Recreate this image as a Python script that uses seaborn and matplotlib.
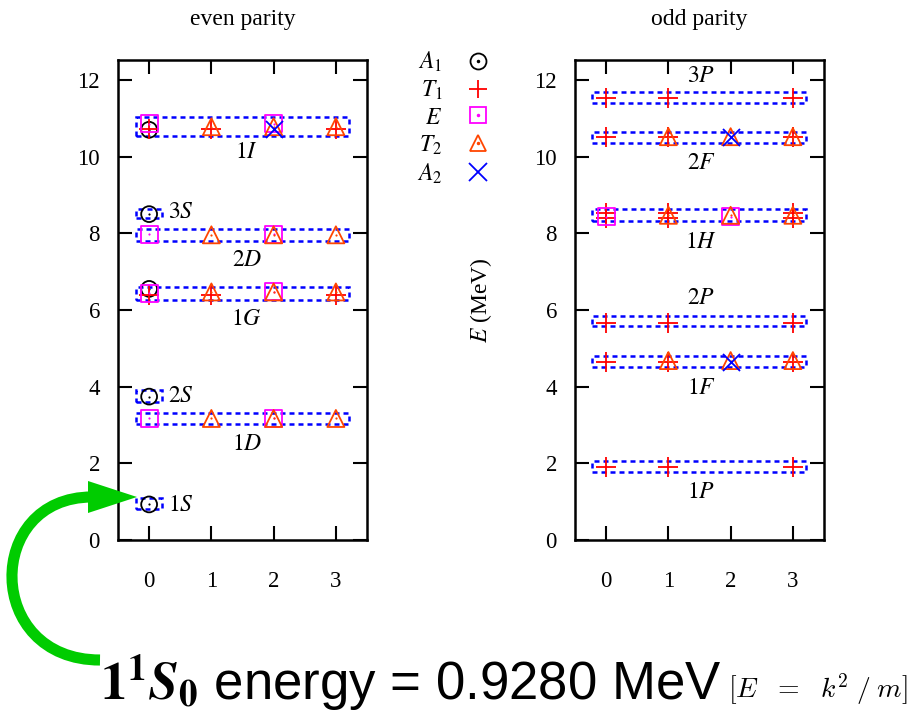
import numpy as np
import pandas as pd
import matplotlib
matplotlib.use("Agg")
import matplotlib.pyplot as plt
import seaborn as sns
from matplotlib.patches import Rectangle, PathPatch, Polygon
from matplotlib.path import Path
from matplotlib.lines import Line2D
from matplotlib.legend_handler import HandlerTuple

# ---------------- data ----------------
irreps = ["A1", "T1", "E", "T2", "A2"]
irrep_labels = ["$A_1$", "$T_1$", "$E$", "$T_2$", "$A_2$"]

even_A1_x = [0, 0, 0, 0, 0]
even_A1_E = [0.928, 3.74, 6.55, 8.50, 10.70]
even_T1_x = [0, 1, 3, 0, 1, 3]
even_T1_E = [6.38, 6.38, 6.38, 10.73, 10.73, 10.73]
even_E_x = [0, 2, 0, 2, 0, 2, 0, 2]
even_E_E = [3.17, 3.17, 6.43, 6.47, 7.98, 7.98, 10.86, 10.86]
even_T2_x = [1, 2, 3, 1, 2, 3, 1, 2, 3, 1, 2, 3]
even_T2_E = [3.17, 3.17, 3.17, 6.47, 6.47, 6.47, 7.96, 7.96, 7.96, 10.78, 10.78, 10.78]
even_A2_x = [2]
even_A2_E = [10.72]

odd_A1_x = []
odd_A1_E = []
odd_T1_x = [0, 1, 3, 0, 1, 3, 0, 1, 3, 0, 1, 3, 0, 1, 3, 0, 1, 3, 0, 1, 3]
odd_T1_E = [1.91, 1.91, 1.91, 4.65, 4.65, 4.65, 5.67, 5.67, 5.67,
            8.52, 8.52, 8.52, 8.39, 8.39, 8.39, 10.52, 10.52, 10.52,
            11.52, 11.52, 11.52]
odd_E_x = [0, 2]
odd_E_E = [8.43, 8.43]
odd_T2_x = [1, 2, 3, 1, 2, 3, 1, 2, 3]
odd_T2_E = [4.68, 4.68, 4.68, 8.47, 8.47, 8.47, 10.52, 10.52, 10.52]
odd_A2_x = [2, 2]
odd_A2_E = [4.65, 10.50]

even_box_label = ["$1S$", "$2S$", "$1D$", "$1G$", "$2D$", "$3S$", "$1I$"]
even_box_x0 = [-0.21, -0.21, -0.21, -0.21, -0.21, -0.21, -0.21]
even_box_x1 = [0.20, 0.20, 3.21, 3.21, 3.21, 0.20, 3.21]
even_box_lo = [0.80, 3.61, 3.02, 6.26, 7.81, 8.40, 10.54]
even_box_hi = [1.10, 3.91, 3.31, 6.61, 8.11, 8.63, 11.04]
even_label_x = [0.30, 0.30, 1.57, 1.57, 1.57, 0.30, 1.57]
even_label_y = [0.91, 3.74, 2.48, 5.74, 7.29, 8.53, 10.10]

odd_box_label = ["$1P$", "$1F$", "$2P$", "$1H$", "$2F$", "$3P$"]
odd_box_x0 = [-0.22, -0.22, -0.22, -0.22, -0.22, -0.22]
odd_box_x1 = [3.21, 3.21, 3.21, 3.21, 3.21, 3.21]
odd_box_lo = [1.77, 4.52, 5.57, 8.31, 10.35, 11.39]
odd_box_hi = [2.06, 4.81, 5.85, 8.63, 10.65, 11.68]
odd_label_x = [1.53, 1.53, 1.53, 1.53, 1.53, 1.53]
odd_label_y = [1.23, 3.96, 6.31, 7.75, 9.83, 12.09]

x_ticks = [0, 1, 2, 3]
y_ticks = [0, 2, 4, 6, 8, 10, 12]

# ---------------- style ----------------
sns.set_style("ticks")
plt.rcParams["font.family"] = ["Liberation Serif", "DejaVu Serif"]
plt.rcParams["mathtext.fontset"] = "stix"
plt.rcParams["text.color"] = "black"
plt.rcParams["axes.labelcolor"] = "black"
plt.rcParams["xtick.color"] = "black"
plt.rcParams["ytick.color"] = "black"

colors = {"A1": "#000000", "T1": "#ff0000", "E": "#ff00ff", "T2": "#ff4500", "A2": "#0000ff"}
markers = {"A1": "o", "T1": "+", "E": "s", "T2": "^", "A2": "x"}
sizes = {"A1": 130, "T1": 190, "E": 150, "T2": 150, "A2": 150}

def frame(x, y, irr, parity):
    return pd.DataFrame({"x": x, "E": y, "irrep": irr, "parity": parity})

df = pd.concat([
    frame(even_A1_x, even_A1_E, "A1", "even"),
    frame(even_T1_x, even_T1_E, "T1", "even"),
    frame(even_E_x, even_E_E, "E", "even"),
    frame(even_T2_x, even_T2_E, "T2", "even"),
    frame(even_A2_x, even_A2_E, "A2", "even"),
    frame(odd_A1_x, odd_A1_E, "A1", "odd"),
    frame(odd_T1_x, odd_T1_E, "T1", "odd"),
    frame(odd_E_x, odd_E_E, "E", "odd"),
    frame(odd_T2_x, odd_T2_E, "T2", "odd"),
    frame(odd_A2_x, odd_A2_E, "A2", "odd"),
], ignore_index=True)

fig = plt.figure(figsize=(9.21, 7.13), dpi=100)
ax_even = fig.add_axes([118 / 921, 1 - 540 / 713, 249 / 921, 480 / 713])
ax_odd = fig.add_axes([575 / 921, 1 - 540 / 713, 249 / 921, 480 / 713])

tick_fs = 16.5

def draw_panel(ax, parity, box_x0, box_x1, box_lo, box_hi, labels, lx, ly):
    for x0, x1, lo, hi in zip(box_x0, box_x1, box_lo, box_hi):
        ax.add_patch(Rectangle((x0, lo), x1 - x0, hi - lo, fill=False,
                               edgecolor="#0000ff", linewidth=1.8,
                               linestyle=(0, (2.0, 1.6)), zorder=2))
    sub = df[df["parity"] == parity]
    for irr in irreps:
        d = sub[sub["irrep"] == irr]
        if d.empty:
            continue
        c = colors[irr]
        if markers[irr] in ("+", "x"):
            sns.scatterplot(data=d, x="x", y="E", marker=markers[irr], s=sizes[irr],
                            color=c, linewidth=1.3, ax=ax, zorder=3, legend=False)
        else:
            sns.scatterplot(data=d, x="x", y="E", marker=markers[irr], s=sizes[irr],
                            facecolor="none", edgecolor=c, linewidth=1.3, ax=ax,
                            zorder=3, legend=False)
            sns.scatterplot(data=d, x="x", y="E", marker="o", s=2.5, color=c,
                            linewidth=0, ax=ax, zorder=3, legend=False)
    for lab, x, y in zip(labels, lx, ly):
        ha = "left" if x < 1 else "center"
        ax.text(x, y, lab, ha=ha, va="center", fontsize=17, color="black", zorder=4)
    ax.set_xlim(-0.5, 3.5)
    ax.set_ylim(0, 12.52)
    ax.set_xticks(x_ticks)
    ax.set_yticks(y_ticks)
    ax.set_xlabel("")
    ax.set_ylabel("")
    ax.tick_params(direction="in", length=10, width=1.5, top=True, right=True,
                   labelsize=tick_fs, colors="black")
    ax.tick_params(axis="x", pad=22)
    ax.tick_params(axis="y", pad=13)
    for s in ax.spines.values():
        s.set_linewidth(1.8)
        s.set_color("black")
        s.set_visible(True)

draw_panel(ax_even, "even", even_box_x0, even_box_x1, even_box_lo, even_box_hi,
           even_box_label, even_label_x, even_label_y)
draw_panel(ax_odd, "odd", odd_box_x0, odd_box_x1, odd_box_lo, odd_box_hi,
           odd_box_label, odd_label_x, odd_label_y)

ax_even.set_title("even parity", fontsize=17, pad=25, color="black")
ax_odd.set_title("odd parity", fontsize=17, pad=25, color="black")
ax_odd.set_ylabel("$E$ (MeV)", fontsize=17, color="black")
ax_odd.yaxis.set_label_coords(-0.325, 0.5)

# legend
handles = []
for irr in irreps:
    c = colors[irr]
    if markers[irr] in ("+", "x"):
        handles.append(Line2D([], [], linestyle="none", marker=markers[irr],
                              markersize=13, color=c, markeredgewidth=1.3))
    else:
        h1 = Line2D([], [], linestyle="none", marker=markers[irr], markersize=11.5,
                    markerfacecolor="none", markeredgecolor=c, markeredgewidth=1.3)
        h2 = Line2D([], [], linestyle="none", marker="o", markersize=1.5,
                    color=c)
        handles.append((h1, h2))
leg = fig.legend(handles, irrep_labels, handler_map={tuple: HandlerTuple(ndivide=1)},
                 loc="upper right", bbox_to_anchor=(492 / 921, 1 - 50 / 713),
                 frameon=False, markerfirst=False, fontsize=17, labelspacing=0.2,
                 handlelength=1.2, handletextpad=0.9, borderpad=0, borderaxespad=0,
                 labelcolor="black")

# annotation arrow and text
W, H = 921.0, 713.0
green = "#00cc00"
shaft = Path(
    [(100 / W, 1 - 660 / H), (-16 / W, 1 - 660 / H), (-16 / W, 1 - 497 / H), (92 / W, 1 - 497 / H)],
    [Path.MOVETO, Path.CURVE4, Path.CURVE4, Path.CURVE4])
fig.patches.append(PathPatch(shaft, transform=fig.transFigure, facecolor="none",
                             edgecolor=green, linewidth=8, capstyle="butt", zorder=5))
fig.patches.append(Polygon([(137 / W, 1 - 497 / H), (88 / W, 1 - 481 / H), (88 / W, 1 - 513 / H)],
                           closed=True, transform=fig.transFigure, facecolor=green,
                           edgecolor="none", zorder=5))

fig.text(100 / W, 1 - 700 / H,
         r"$\mathbf{1}^{\mathbf{1}}\mathbfit{S}_{\mathbf{0}}$ energy = 0.9280 MeV",
         fontsize=38, family=["Liberation Sans", "DejaVu Sans"], math_fontfamily="stix",
         color="black", ha="left", va="baseline")
fig.text(728 / W, 1 - 698 / H, r"$[E\ \ =\ \ k^2\;/\;m]$", fontsize=20,
         math_fontfamily="cm", color="black", ha="left", va="baseline")

fig.savefig("out.png", dpi=100)
